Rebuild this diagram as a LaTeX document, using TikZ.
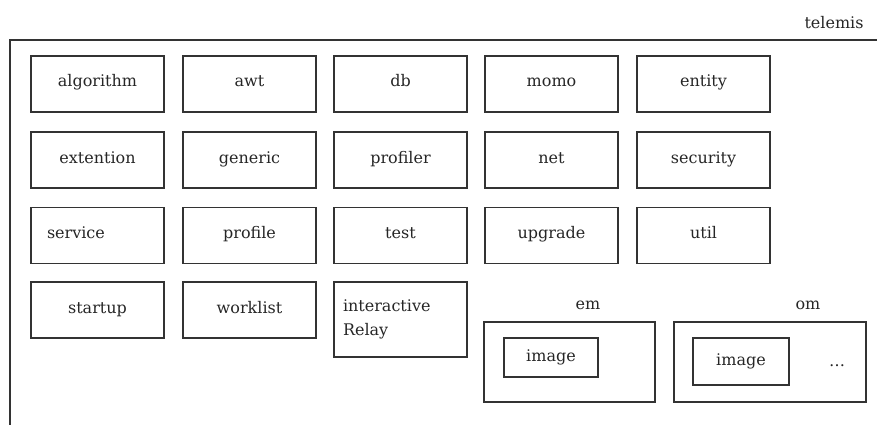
\documentclass[tikz,border=0pt]{standalone}
\usepackage{fontspec}
\setmainfont{DejaVu Serif}
\usepackage{tikz}

\tikzset{
	pkg/.style={draw=black!80, line width=1.1pt, minimum width=133pt, minimum height=56pt, inner sep=0pt, text height=14pt, text depth=8pt},
	leftpkg/.style={pkg, text width=101pt, inner xsep=16pt, align=left},
	subpkg/.style={draw=black!80, line width=1.1pt, inner sep=0pt},
}

\begin{document}
\begin{tikzpicture}[x=1pt, y=-1pt, font=\fontsize{16}{24}\selectfont, text=black!85]
		\useasboundingbox (0,0) rectangle (877,425);

		% Outer package (cut off at right and bottom)
		\draw[black!80, line width=1.1pt] (10,425) -- (10,40) -- (877,40);
		\node (telemis) at (834,23) {telemis};

		% First row
		\node[pkg] (algorithm) at (97.5,84) {algorithm};
		\node[pkg] (awt) at (249.5,84) {awt};
		\node[pkg] (db) at (400.5,84) {db};
		\node[pkg] (momo) at (551.5,84) {momo};
		\node[pkg] (entity) at (703.5,84) {entity};

		% Second row
		\node[pkg] (extention) at (97.5,160) {extention};
		\node[pkg] (generic) at (249.5,160) {generic};
		\node[pkg] (profiler) at (400.5,160) {profiler};
		\node[pkg] (net) at (551.5,160) {net};
		\node[pkg] (security) at (703.5,160) {security};

		% Third row
		\node[leftpkg] (service) at (97.5,235.5) {service};
		\node[pkg] (profile) at (249.5,235.5) {profile};
		\node[pkg] (test) at (400.5,235.5) {test};
		\node[pkg] (upgrade) at (551.5,235.5) {upgrade};
		\node[pkg] (util) at (703.5,235.5) {util};

		% Fourth row
		\node[pkg] (startup) at (97.5,310) {startup};
		\node[pkg] (worklist) at (249.5,310) {worklist};
		\node[draw=black!80, line width=1.1pt, inner sep=0pt, minimum width=133pt, minimum height=75pt, text width=115pt, inner xsep=9pt, align=left] (relay) at (400.5,319.5) {interactive\\Relay};

		% em and om with their sub packages
		\node[subpkg, minimum width=171pt, minimum height=80pt] (em) at (569.5,362) {};
		\node (emlabel) at (588,305) {em};
		\node[subpkg, minimum width=94pt, minimum height=39pt] (emimage) at (551,357.5) {image};

		\node[subpkg, minimum width=192pt, minimum height=80pt] (om) at (770,362) {};
		\node (omlabel) at (808,305) {om};
		\node[subpkg, minimum width=96pt, minimum height=47pt] (omimage) at (741,361.5) {image};
		\node (omdots) at (837,366) {\dots};
	\end{tikzpicture}
\end{document}
